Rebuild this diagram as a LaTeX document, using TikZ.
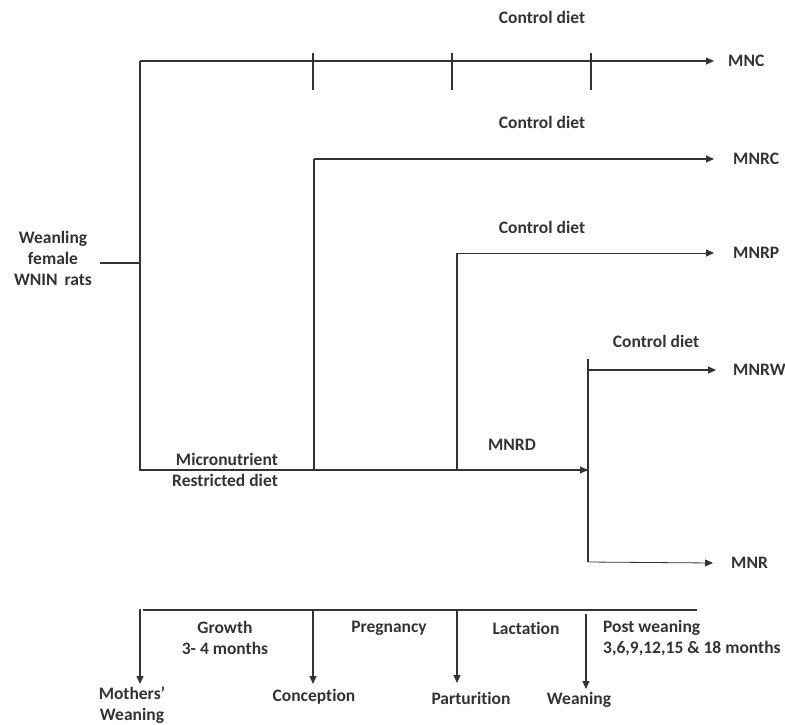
\documentclass[tikz,border=0pt]{standalone}
\usepackage{fontspec}
\setmainfont{Carlito}[Ligatures=NoCommon]
\usetikzlibrary{arrows.meta}
\tikzset{ln/.style={line width=1.1pt, draw=black!80},
thin ln/.style={line width=0.8pt, draw=black!80},
arr/.style={ln, -{Triangle[length=8pt,width=7pt]}},
thin arr/.style={thin ln, -{Triangle[length=8pt,width=7pt]}},
lbl/.style={font=\bfseries\fontsize{17.5}{21}\selectfont, text=black!80, inner sep=0pt, align=center}}
\begin{document}
\begin{tikzpicture}[x=1pt,y=-1pt]
\useasboundingbox (0,0) rectangle (785,724);
\node[lbl] (rats) at (53,258) {Weanling\\female\\WNIN\ \,rats};
\node[lbl] (cd1) at (542,17) {Control diet};
\node[lbl] (cd2) at (542,122) {Control diet};
\node[lbl] (cd3) at (542,227) {Control diet};
\node[lbl] (cd4) at (656,341) {Control diet};
\node[lbl,anchor=west] (mnc) at (728,61) {MNC};
\node[lbl,anchor=west] (mnrc) at (733,159) {MNRC};
\node[lbl,anchor=west] (mnrp) at (733,253) {MNRP};
\node[lbl,anchor=west] (mnrw) at (733,370) {MNRW};
\node[lbl,anchor=west] (mnr) at (731,563) {MNR};
\node[lbl,align=right,anchor=east] (micro) at (278,470) {Micronutrient\\Restricted diet};
\node[lbl] (mnrd) at (512,445) {MNRD};
\coordinate (w0) at (100,263);
\coordinate (w1) at (140,263);
\coordinate (a0) at (140,61);
\coordinate (a1) at (140,470);
\coordinate (b0) at (314,159);
\coordinate (b1) at (314,470);
\coordinate (c0) at (457,253);
\coordinate (c1) at (457,470);
\coordinate (d0) at (588,359);
\coordinate (d1) at (588,562);
\coordinate (d2) at (588,470);
\coordinate (dw) at (588,370);
\draw[ln] (w0) -- (w1);
\draw[ln] (a0) -- (a1) -- (d2);
\draw[arr] (a1) -- (d2);
\draw[arr] (a0) -- ([xshift=-14pt]mnc.west);
\foreach \x in {313,452,591} \draw[ln] (\x,53) -- (\x,90);
\draw[ln] (b1) -- (b0);
\draw[arr] (b0) -- ([xshift=-19pt]mnrc.west);
\draw[ln] (c1) -- (c0);
\draw[thin arr] (c0) -- ([xshift=-19pt]mnrp.west);
\draw[ln] (d0) -- (d1);
\draw[arr] (dw) -- ([xshift=-17pt]mnrw.west);
\draw[thin arr] (d1) -- ([xshift=-18pt]mnr.west);
% time line
\coordinate (t0) at (143,610);
\coordinate (t1) at (697,610);
\draw[ln] (t0) -- (t1);
\node[lbl] (mw) at (132,705) {Mothers’\\Weaning};
\node[lbl] (conc) at (314,697) {Conception};
\node[lbl] (part) at (471,698) {Parturition};
\node[lbl] (wean) at (579,700) {Weaning};
\node[lbl] (grow) at (225,638) {Growth\\3- 4 months};
\node[lbl] (preg) at (389,628) {Pregnancy};
\node[lbl] (lact) at (526,628) {Lactation};
\node[lbl,align=left,anchor=west] (post) at (603,638) {Post weaning\\3,6,9,12,15 \& 18 months};
\coordinate (m0) at (140,609);
\coordinate (m1) at (140,684);
\coordinate (n0) at (313,610);
\coordinate (n1) at (313,684);
\coordinate (p0) at (457,610);
\coordinate (p1) at (457,683);
\coordinate (q0) at (586,614);
\coordinate (q1) at (586,689);
\draw[arr] (m0) -- (m1);
\draw[arr] (n0) -- (n1);
\draw[arr] (p0) -- (p1);
\draw[arr] (q0) -- (q1);
\end{tikzpicture}
\end{document}
